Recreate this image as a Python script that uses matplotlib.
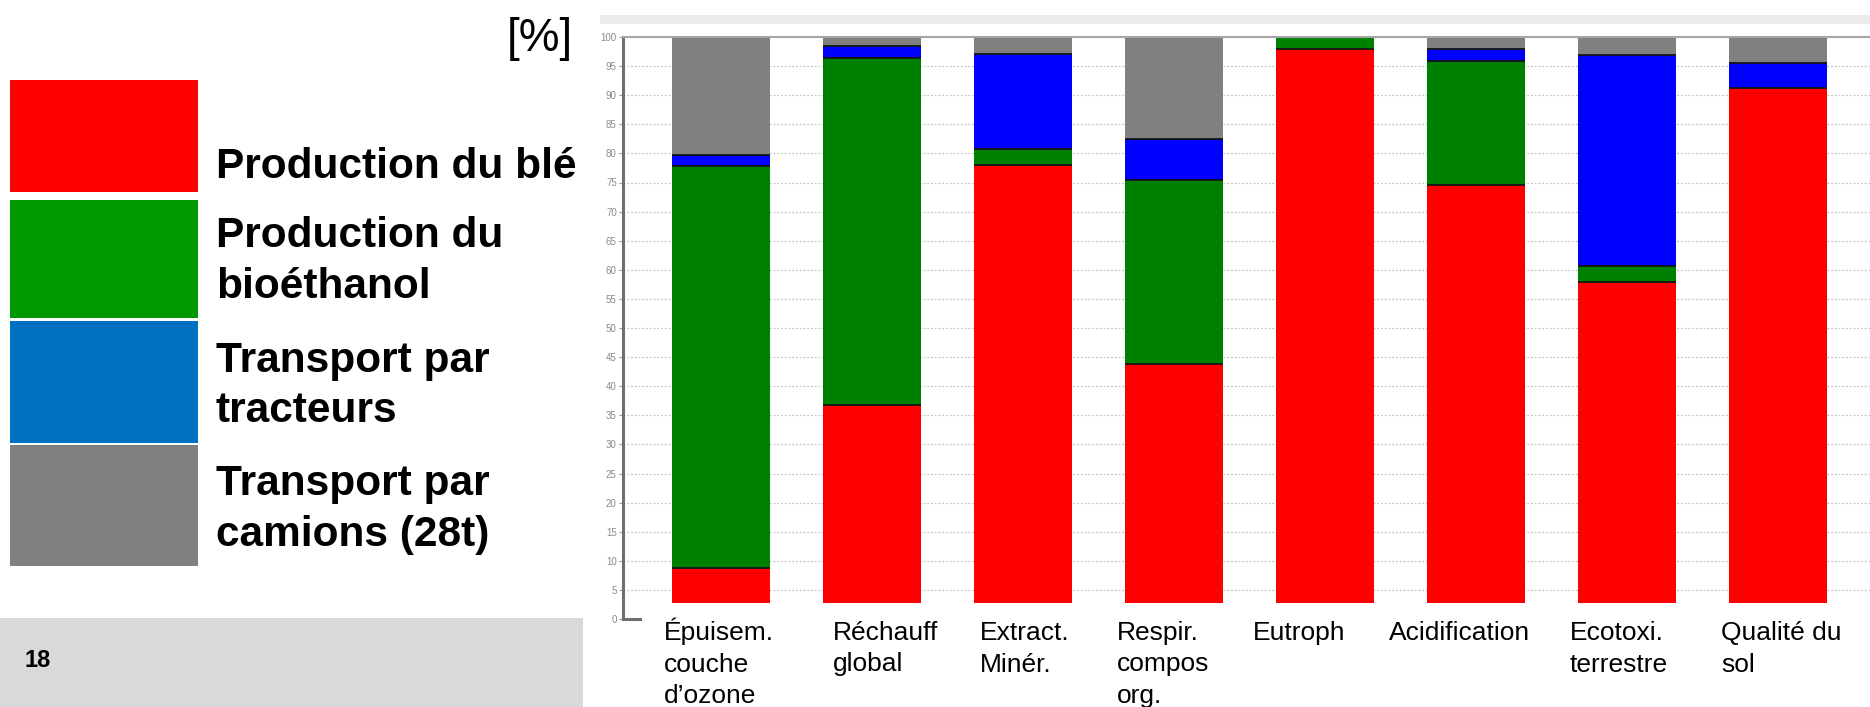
import matplotlib
matplotlib.use("Agg")
import matplotlib.pyplot as plt
import matplotlib.transforms as mtransforms
from matplotlib.patches import Rectangle, FancyBboxPatch
import numpy as np

plt.rcParams['font.family'] = ['Liberation Sans', 'DejaVu Sans']

# ---- data -------------------------------------------------------------
categories = ["Épuisem.\ncouche\nd’ozone", "Réchauff\nglobal", "Extract.\nMinér.",
              "Respir.\ncompos\norg.", "Eutroph", "Acidification",
              "Ecotoxi.\nterrestre", "Qualité du\nsol"]
series_names = ["Production du blé", "Production du\nbioéthanol",
                "Transport par\ntracteurs", "Transport par\ncamions (28t)"]
ble        = [8.7, 36.8, 78.0, 43.9, 97.9, 74.6, 57.9, 91.2]
bioethanol = [69.1, 59.6, 2.8, 31.5, 2.1, 21.2, 2.7, 0.0]
tracteurs  = [2.0, 2.0, 16.2, 7.0, 0.0, 2.2, 36.3, 4.3]
camions    = [20.2, 1.6, 3.0, 17.6, 0.0, 2.0, 3.1, 4.5]
yticks = list(range(0, 101, 5))
unit_label = "[%]"
page_number = "18"

# ---- styling ----------------------------------------------------------
bar_colors = ['#ff0000', '#008000', '#0000ff', '#808080']
key_colors = ['#ff0000', '#009900', '#0070c0', '#808080']
W, H = 1870, 707
fig = plt.figure(figsize=(W / 100, H / 100), dpi=100)
fig.patch.set_facecolor('white')
pix = mtransforms.IdentityTransform()


def top_y(y):
    """Convert a distance from the top edge (pixels) to display y."""
    return H - y


# slide footer band with rounded white panel above it
fig.add_artist(Rectangle((0, 0), 583, top_y(618), transform=pix,
                         facecolor='#d9d9d9', edgecolor='none', zorder=-3))
fig.add_artist(FancyBboxPatch((14, top_y(618) + 14), 555, 600,
                              boxstyle="round,pad=14,rounding_size=14",
                              transform=pix, facecolor='white',
                              edgecolor='none', zorder=-2))
# thin header band of the chart panel
fig.add_artist(Rectangle((600, top_y(24)), W - 600, 9, transform=pix,
                         facecolor='#ececec', edgecolor='none', zorder=-1))

# ---- chart ------------------------------------------------------------
ax = fig.add_axes([623 / W, 1 - 619 / H, (W - 623) / W, (619 - 37) / H])
ax.set_zorder(2)
ax.set_facecolor('white')
n = len(categories)
x = np.arange(n)
bw = 0.65
series = [ble, bioethanol, tracteurs, camions]
bottom = np.zeros(n)
for vals, col in zip(series, bar_colors):
    vals = np.asarray(vals, dtype=float)
    ax.bar(x, vals, bottom=bottom, width=bw, color=col, edgecolor='none',
           zorder=2)
    tops = bottom + vals
    for xi, v, t in zip(x, vals, tops):
        if v > 0 and t < 99.9:
            ax.hlines(t, xi - bw / 2, xi + bw / 2, color='#151515', lw=1.3,
                      zorder=3)
    bottom = tops

ax.set_xlim(-0.649, 7.609)
ax.set_ylim(0, 100)
ax.set_yticks(yticks)
ax.set_xticks([])
ax.yaxis.grid(True, linestyle=(0, (1.5, 1.5)), color='#c4c4c4', linewidth=0.9)
ax.set_axisbelow(True)
ax.tick_params(axis='y', labelsize=7, labelcolor='#8a8a8a', color='#9a9a9a',
               length=3, width=0.8, pad=1.5)
for side in ('left', 'bottom'):
    ax.spines[side].set_color('#6e6e6e')
    ax.spines[side].set_linewidth(2.2)
ax.spines['right'].set_visible(False)
ax.spines['top'].set_color('#a6a6a6')
ax.spines['top'].set_linewidth(1.5)

# white label strip over the foot of the bars
blend = mtransforms.blended_transform_factory(ax.transAxes, ax.transData)
ax.add_patch(Rectangle(((642 - 623) / (W - 623), -1), 1.2, 3.75,
                       transform=blend, facecolor='white', edgecolor='none',
                       zorder=5, clip_on=False))

# category labels, left aligned under each bar
label_shift = [-0.053, 0.066, 0.040, -0.053, -0.152, -0.252, -0.053, -0.053]
lab_tr = mtransforms.blended_transform_factory(ax.transData, pix)
for i, lab in enumerate(categories):
    for j, line in enumerate(lab.split('\n')):
        ax.text(i - bw / 2 + label_shift[i], top_y(640 + 31.5 * j), line,
                transform=lab_tr, ha='left', va='baseline', fontsize=19,
                color='black', zorder=6, clip_on=False)

# ---- key on the left --------------------------------------------------
box_rows = [(80, 192), (200, 318), (321, 443), (445, 566)]
text_baselines = [[178], [247, 298], [372, 422], [495, 546]]
for name, col, (y0, y1), bls in zip(series_names, key_colors, box_rows,
                                     text_baselines):
    fig.add_artist(Rectangle((10, top_y(y1)), 188, y1 - y0, transform=pix,
                             facecolor=col, edgecolor='none', zorder=1))
    for line, bl in zip(name.split('\n'), bls):
        fig.text(216, top_y(bl), line, transform=pix, ha='left',
                 va='baseline', fontsize=30.5, fontweight='bold',
                 color='black', zorder=2)

fig.text(507, top_y(51), unit_label, transform=pix, ha='left', va='baseline',
         fontsize=33, color='black')
fig.text(24, top_y(667), page_number, transform=pix, ha='left', va='baseline',
         fontsize=17, fontweight='bold', color='black')

fig.savefig('out.png', dpi=100, facecolor='white')
